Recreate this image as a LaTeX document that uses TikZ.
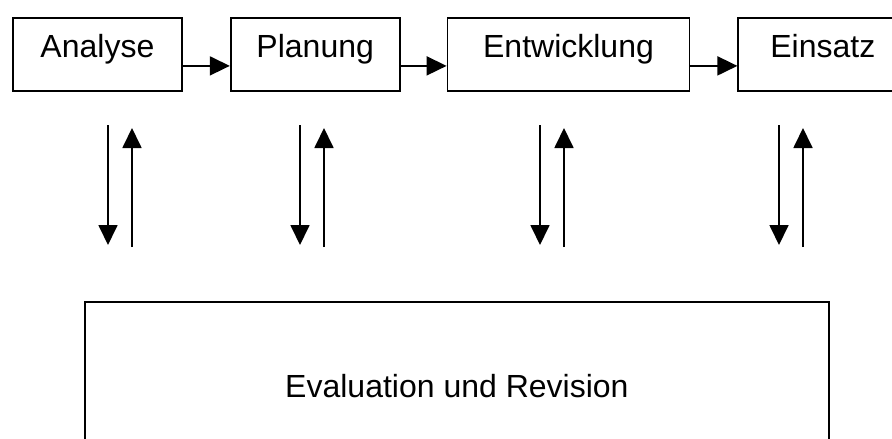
\documentclass[tikz,border=0pt]{standalone}
\usepackage{fontspec}
\setmainfont{Liberation Sans}
\usetikzlibrary{
  arrows.meta,
  positioning
}
\newcommand{\labelfont}{\fontsize{32}{38}\selectfont}
\tikzset{
  flow/.style={
    -{Triangle[length=20pt, width=19pt]},
    line width=1.8pt,
    draw=black
  },
  phase/.style={
    draw=black,
    line width=1.8pt,
    minimum height=73pt,
    inner sep=0pt,
    text height=40pt,
    text depth=33pt,
    font=\labelfont
  },
  evalbox/.style={
    draw=black,
    line width=1.8pt,
    minimum width=744pt,
    inner sep=0pt,
    text height=96pt,
    text depth=110pt,
    font=\labelfont
  }
}
\begin{document}
\begin{tikzpicture}[x=1pt, y=-1pt]
  \clip (0,0) rectangle (892,439);
  % Top row.
  \node[phase, minimum width=169pt, anchor=north west] (analyse) at (12,17) {Analyse};
  \node[phase, minimum width=169pt, right=47pt of analyse] (planung) {Planung};
  \node[phase, minimum width=242pt, right=46pt of planung] (entwicklung) {Entwicklung};
  \node[phase, minimum width=169pt, right=47pt of entwicklung] (einsatz) {Einsatz};
  \foreach \a/\b in {analyse/planung, planung/entwicklung, entwicklung/einsatz}
    \draw[flow] ([yshift=-11.5pt]\a.east) -- ([yshift=-11.5pt]\b.west);

  % Bottom box.
  \node[evalbox, anchor=north west] (eval) at (84,301) {Evaluation und Revision};

  % Arrows down and up.
  \foreach \x [count=\i] in {108,300,540,779} {
    \coordinate (down\i) at (\x,125);
    \coordinate (hit\i) at (\x,245);
    \coordinate (base\i) at (\x+24,247);
    \coordinate (tip\i) at (\x+24,128);
    \draw[flow] (down\i) -- (hit\i);
    \draw[flow] (base\i) -- (tip\i);
  }
\end{tikzpicture}
\end{document}
